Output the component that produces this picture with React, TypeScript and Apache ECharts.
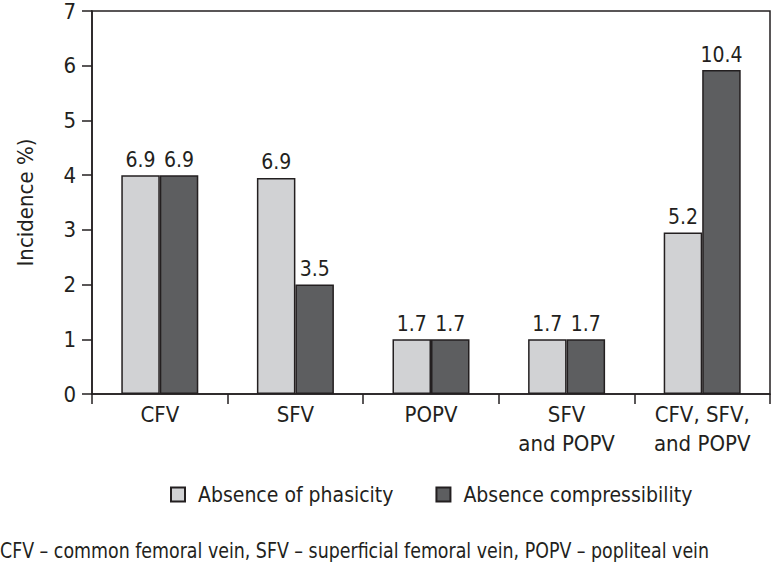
import React, { useEffect, useRef } from "react";
import * as echarts from "echarts";

const categories = ["CFV", "SFV", "POPV", "SFV\nand POPV", "CFV, SFV,\nand POPV"];
const phasicityValues = [4, 3.95, 1, 1, 2.95];
const compressValues = [4, 2, 1, 1, 5.92];
const phasicityLabels = ["6.9", "6.9", "1.7", "1.7", "5.2"];
const compressLabels = ["6.9", "3.5", "1.7", "1.7", "10.4"];
const seriesNames = ["Absence of phasicity", "Absence compressibility"];
const yMin = 0;
const yMax = 7;
const yInterval = 1;
const footnote = "CFV – common femoral vein, SFV – superficial femoral vein, POPV – popliteal vein";

const FONT = '"DejaVu Sans Condensed", "Liberation Sans Narrow", sans-serif';
const INK = "#231f20";
const LIGHT = "#d1d2d4";
const DARK = "#5d5e60";

export default function App() {
  const ref = useRef<HTMLDivElement>(null);
  useEffect(() => {
    if (!ref.current) return;
    const chart = echarts.init(ref.current, undefined, { renderer: "svg" });
    const labelFor = (arr: string[]) => (p: any) => arr[p.dataIndex];
    chart.setOption({
      animation: false,
      backgroundColor: "#ffffff",
      textStyle: { fontFamily: FONT, color: INK },
      grid: {
        left: 92,
        right: 2,
        top: 10,
        bottom: 177,
        show: true,
        borderColor: INK,
        borderWidth: 1.5,
        backgroundColor: "transparent",
      },
      legend: {
        left: 165,
        top: 479,
        itemWidth: 14,
        itemHeight: 14,
        itemGap: 42,
        icon: "rect",
        textStyle: { fontFamily: FONT, fontSize: 21, color: INK, padding: [0, 0, 0, 8] },
        data: seriesNames,
      },
      xAxis: {
        type: "category",
        data: categories,
        axisLine: { lineStyle: { color: INK, width: 1.5 } },
        axisTick: { show: true, length: 10, lineStyle: { color: INK, width: 1.5 } },
        axisLabel: {
          fontFamily: FONT,
          fontSize: 22,
          color: INK,
          margin: 6,
          lineHeight: 29,
          interval: 0,
        },
        splitLine: { show: false },
      },
      yAxis: {
        type: "value",
        min: yMin,
        max: yMax,
        interval: yInterval,
        name: "Incidence %)",
        nameLocation: "middle",
        nameGap: 56,
        nameTextStyle: { fontFamily: FONT, fontSize: 22, color: INK },
        axisLine: { show: true, lineStyle: { color: INK, width: 1.5 } },
        axisTick: { show: true, length: 10, lineStyle: { color: INK, width: 1.5 } },
        axisLabel: { fontFamily: FONT, fontSize: 22, color: INK, margin: 16 },
        splitLine: { show: false },
      },
      series: [
        {
          name: seriesNames[0],
          type: "bar",
          data: phasicityValues,
          barWidth: 38.5,
          barGap: "0%",
          itemStyle: { color: LIGHT, borderColor: INK, borderWidth: 1.5 },
          label: {
            show: true,
            position: "top",
            distance: 5,
            formatter: labelFor(phasicityLabels),
            fontFamily: FONT,
            fontSize: 21,
            color: INK,
          },
        },
        {
          name: seriesNames[1],
          type: "bar",
          data: compressValues,
          barWidth: 38.5,
          barGap: "0%",
          itemStyle: { color: DARK, borderColor: INK, borderWidth: 1.5 },
          label: {
            show: true,
            position: "top",
            distance: 5,
            formatter: labelFor(compressLabels),
            fontFamily: FONT,
            fontSize: 21,
            color: INK,
          },
        },
      ],
      graphic: [
        {
          type: "text",
          x: 0,
          y: 540,
          scaleX: 0.88,
          style: { text: footnote, fontFamily: FONT, fontSize: 22, fill: INK },
        },
      ],
    });
    return () => chart.dispose();
  }, []);
  return (
    <div
      ref={ref}
      style={{ position: "fixed", left: 0, top: 0, width: 772, height: 571 }}
    />
  );
}
